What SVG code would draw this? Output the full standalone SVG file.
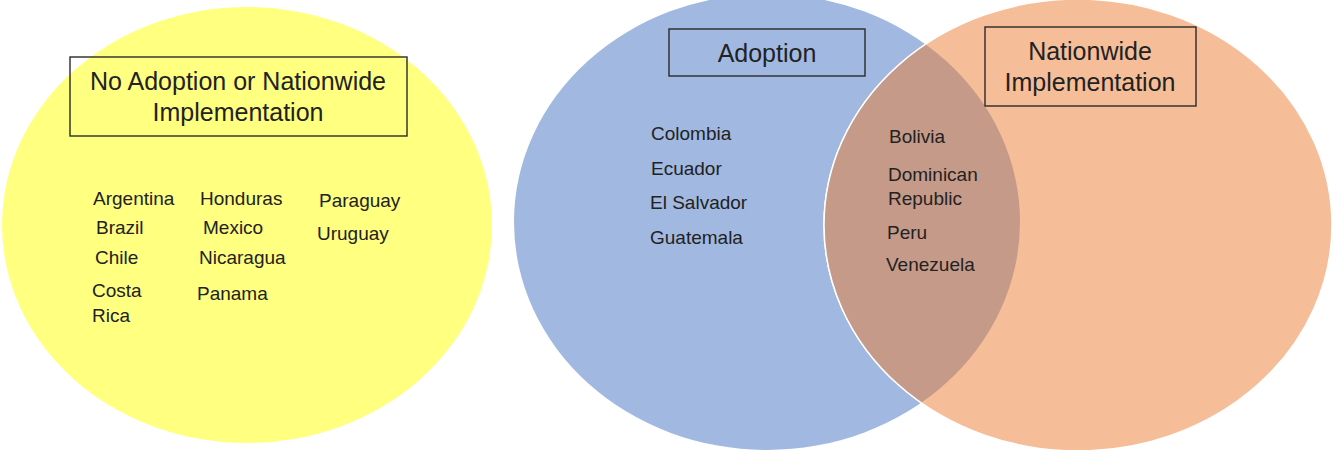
<svg xmlns="http://www.w3.org/2000/svg" width="1333" height="450" viewBox="0 0 1333 450">
<style>
.t{font-family:"Liberation Sans",Arial,sans-serif;fill:#222;}
.c{font-size:19px;}
.h{font-size:25px;text-anchor:middle;}
.box{fill:none;stroke:#2a2a2a;stroke-width:1.4;}
</style>
<defs>
<clipPath id="clipBlue"><ellipse cx="767" cy="222" rx="253" ry="228"/></clipPath>
</defs>
<rect width="1333" height="450" fill="#ffffff"/>
<g id="no-adoption">
<ellipse cx="247" cy="225" rx="245" ry="218" fill="#FFFF80"/>
<rect class="box" x="70" y="57" width="337" height="79"/>
<text class="t h" x="238" y="90">No Adoption or Nationwide</text>
<text class="t h" x="238" y="121">Implementation</text>
<text class="t c" x="93" y="205">Argentina</text>
<text class="t c" x="96" y="234">Brazil</text>
<text class="t c" x="95" y="264">Chile</text>
<text class="t c" x="92" y="297">Costa</text>
<text class="t c" x="92" y="322">Rica</text>
<text class="t c" x="200" y="205">Honduras</text>
<text class="t c" x="203" y="234">Mexico</text>
<text class="t c" x="199" y="264">Nicaragua</text>
<text class="t c" x="197" y="300">Panama</text>
<text class="t c" x="319" y="207">Paraguay</text>
<text class="t c" x="317" y="240">Uruguay</text>
</g>
<g id="adoption">
<ellipse cx="767" cy="222" rx="253" ry="228" fill="#A1B8E0"/>
</g>
<g id="nationwide">
<ellipse cx="1078" cy="225" rx="254" ry="226" fill="#F5BD98" stroke="#ffffff" stroke-width="1.5"/>
</g>
<g id="overlap">
<ellipse cx="1078" cy="225" rx="254" ry="226" fill="#C59A88" stroke="#ffffff" stroke-width="1.5" clip-path="url(#clipBlue)"/>
</g>
<g id="labels">
<rect class="box" x="669" y="29" width="196" height="47"/>
<text class="t h" x="767" y="62">Adoption</text>
<text class="t c" x="651" y="140">Colombia</text>
<text class="t c" x="651" y="175">Ecuador</text>
<text class="t c" x="650" y="209">El Salvador</text>
<text class="t c" x="650" y="244">Guatemala</text>
<rect class="box" x="985" y="27" width="211" height="79"/>
<text class="t h" x="1090" y="60">Nationwide</text>
<text class="t h" x="1090" y="91">Implementation</text>
<text class="t c" x="889" y="143">Bolivia</text>
<text class="t c" x="888" y="181">Dominican</text>
<text class="t c" x="888" y="205">Republic</text>
<text class="t c" x="887" y="239">Peru</text>
<text class="t c" x="886" y="271">Venezuela</text>
</g>
<g id="connectors"></g>
</svg>
